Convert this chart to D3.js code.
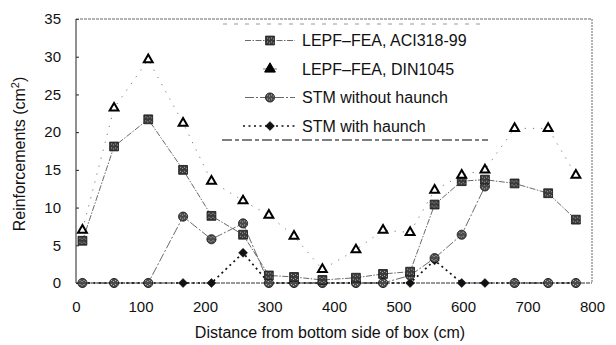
<!DOCTYPE html>
<html>
<head>
<meta charset="utf-8">
<script src="https://cdn.jsdelivr.net/npm/d3@7"></script>
<style>
  body { margin: 0; background: #fff; }
  svg { display: block; }
  text { font-family: "Liberation Sans", Arial, sans-serif; fill: #111; }
</style>
</head>
<body>
<svg id="chart" width="616" height="345"></svg>
<script>
// Distance from the bottom side of the box (cm)
const distances = [10, 59, 112, 166, 210, 259, 299, 338, 382, 434, 476, 518, 556, 598, 634, 680, 732, 775];
// Required reinforcement (cm^2)
const aciValues   = [5.6, 18.1, 21.7, 15.0, 8.9, 6.4, 1.0, 0.8, 0.4, 0.7, 1.2, 1.5, 10.4, 13.5, 13.7, 13.2, 11.9, 8.4];
const dinValues   = [7.0, 23.2, 29.6, 21.2, 13.5, 10.9, 9.0, 6.2, 1.8, 4.4, 7.0, 6.7, 12.3, 14.3, 15.0, 20.5, 20.5, 14.3];
const stmNoHaunch = [0, 0, 0, 8.8, 5.8, 7.9, 0, 0, 0, 0, 0, 1.0, 3.3, 6.4, 12.8, 0, 0, 0];
const stmHaunch   = [0, 0, 0, 0, 0, 4.0, 0, 0, 0, 0, 0, 0, 3.0, 0, 0, 0, 0, 0];
// the STM-without-haunch curve is not joined after this index
const stmNoHaunchBreaks = [14];

const seriesNames = ["LEPF\u2013FEA, ACI318-99", "LEPF\u2013FEA, DIN1045", "STM without haunch", "STM with haunch"];
const xTicks = [0, 100, 200, 300, 400, 500, 600, 700, 800];
const yTicks = [0, 5, 10, 15, 20, 25, 30, 35];
const xLabel = "Distance from bottom side of box (cm)";
const yLabel = "Reinforcements (cm";

const svg = d3.select("#chart");
const L = 76, R = 592, T = 19, B = 283;
const x = d3.scaleLinear().domain([0, 800]).range([L, R]);
const y = d3.scaleLinear().domain([0, 35]).range([B, T]);

// speckled fills for the dark markers
const defs = svg.append("defs");
function speckle(id, base, spot) {
  const p = defs.append("pattern").attr("id", id).attr("patternUnits", "userSpaceOnUse")
    .attr("width", 4).attr("height", 4);
  p.append("rect").attr("width", 4).attr("height", 4).attr("fill", base);
  p.append("rect").attr("x", 1).attr("y", 1).attr("width", 1).attr("height", 1).attr("fill", spot);
  p.append("rect").attr("x", 3).attr("y", 2).attr("width", 1).attr("height", 1).attr("fill", spot);
}
speckle("sqFill", "#3a3a3a", "#aaa");
speckle("ciFill", "#4a4a4a", "#bbb");

// rhombus marker: a square turned by 45 degrees
const rhombus = {
  draw(ctx, size) {
    const r = Math.sqrt(size / 2);
    ctx.moveTo(0, -r); ctx.lineTo(r, 0); ctx.lineTo(0, r); ctx.lineTo(-r, 0); ctx.closePath();
  }
};

const series = [
  { name: seriesNames[0], values: aciValues, symbol: d3.symbolSquare, size: 78,
    fill: "url(#sqFill)", stroke: "#111", sw: 0.8,
    line: { color: "#444", width: 0.8, dash: "6,1.5,1.5,1.5" }, breaks: [] },
  { name: seriesNames[1], values: dinValues, symbol: d3.symbolTriangle, size: 34,
    fill: "#fff", stroke: "#000", sw: 2,
    line: { color: "#777", width: 1, dash: "1.2,7" }, breaks: [] },
  { name: seriesNames[2], values: stmNoHaunch, symbol: d3.symbolCircle, size: 66,
    fill: "url(#ciFill)", stroke: "#111", sw: 0.8,
    line: { color: "#444", width: 0.8, dash: "9,2,2,2" }, breaks: stmNoHaunchBreaks },
  { name: seriesNames[3], values: stmHaunch, symbol: rhombus, size: 40,
    fill: "#111", stroke: "#000", sw: 0.5,
    line: { color: "#111", width: 1.7, dash: "2,3.5" }, breaks: [] }
];

// axes
const yAxis = d3.axisLeft(y).tickValues(yTicks).tickSizeInner(-3).tickSizeOuter(0).tickPadding(15);
const gy = svg.append("g").attr("transform", `translate(${L},0)`).call(yAxis);
gy.select(".domain").remove();
gy.selectAll(".tick line").attr("stroke", "#222");
gy.selectAll(".tick text").attr("font-size", 15).attr("font-family", "Liberation Sans, Arial, sans-serif").attr("fill", "#111");

const xAxis = d3.axisBottom(x).tickValues(xTicks).tickSize(0).tickPadding(18);
const gx = svg.append("g").attr("transform", `translate(0,${B})`).call(xAxis);
gx.select(".domain").remove();
gx.selectAll(".tick text").attr("font-size", 15).attr("font-family", "Liberation Sans, Arial, sans-serif").attr("fill", "#111");

// frame
svg.append("line").attr("x1", L).attr("x2", R).attr("y1", T).attr("y2", T)
  .attr("stroke", "#666").attr("stroke-width", 1).attr("stroke-dasharray", "3,1");
svg.append("line").attr("x1", R).attr("x2", R).attr("y1", T).attr("y2", B)
  .attr("stroke", "#666").attr("stroke-width", 1).attr("stroke-dasharray", "2,1");
svg.append("line").attr("x1", L).attr("x2", L).attr("y1", T).attr("y2", B)
  .attr("stroke", "#222").attr("stroke-width", 1);
svg.append("line").attr("x1", L).attr("x2", R).attr("y1", B).attr("y2", B)
  .attr("stroke", "#333").attr("stroke-width", 1.2).attr("stroke-dasharray", "4,1");

// axis titles
svg.append("text").attr("x", 330).attr("y", 338).attr("text-anchor", "middle")
  .attr("font-size", 16).text(xLabel);
const yt = svg.append("text").attr("transform", "translate(25,154) rotate(-90)")
  .attr("text-anchor", "middle").attr("font-size", 16);
yt.append("tspan").text(yLabel);
yt.append("tspan").attr("font-size", 11).attr("dy", -6).text("2");
yt.append("tspan").attr("dy", 6).text(")");

// lines
const lineGen = d3.line().x(d => x(d[0])).y(d => y(d[1]));
series.forEach(s => {
  const pts = distances.map((d, i) => [d, s.values[i]]);
  const segs = [];
  let cur = [];
  pts.forEach((p, i) => {
    cur.push(p);
    if (s.breaks.includes(i)) { segs.push(cur); cur = []; }
  });
  if (cur.length) segs.push(cur);
  segs.forEach(seg => {
    svg.append("path").attr("d", lineGen(seg)).attr("fill", "none")
      .attr("stroke", s.line.color).attr("stroke-width", s.line.width)
      .attr("stroke-dasharray", s.line.dash);
  });
});

// markers: diamonds, circles, squares, triangles (drawing order)
[3, 2, 0, 1].forEach(k => {
  const s = series[k];
  const sym = d3.symbol().type(s.symbol).size(s.size);
  svg.append("g").selectAll("path").data(distances.map((d, i) => [d, s.values[i]]))
    .join("path")
    .attr("transform", d => `translate(${x(d[0])},${y(d[1])})`)
    .attr("d", sym)
    .attr("fill", s.fill).attr("stroke", s.stroke).attr("stroke-width", s.sw);
});

// legend
const lg = svg.append("g");
lg.append("line").attr("x1", 223).attr("x2", 486).attr("y1", 24).attr("y2", 24)
  .attr("stroke", "#999").attr("stroke-width", 1).attr("stroke-dasharray", "4,7");
lg.append("line").attr("x1", 222).attr("x2", 488).attr("y1", 140).attr("y2", 140)
  .attr("stroke", "#555").attr("stroke-width", 1.3).attr("stroke-dasharray", "10,3,4,3");
const rowY = [40.5, 69, 97.5, 126];
const sampleX = [[245, 295], [263, 277], [245, 295], [243, 295]];
series.forEach((s, i) => {
  const ry = rowY[i];
  lg.append("line").attr("x1", sampleX[i][0]).attr("x2", sampleX[i][1]).attr("y1", ry).attr("y2", ry)
    .attr("stroke", s.line.color).attr("stroke-width", s.line.width)
    .attr("stroke-dasharray", i === 1 ? null : s.line.dash);
  lg.append("path").attr("transform", `translate(270,${ry})`)
    .attr("d", d3.symbol().type(s.symbol).size(i === 1 ? 50 : s.size)())
    .attr("fill", i === 1 ? "#000" : s.fill).attr("stroke", s.stroke).attr("stroke-width", i === 1 ? 1 : s.sw);
  lg.append("text").attr("x", 302).attr("y", ry).attr("dy", "0.36em")
    .attr("font-size", 16).text(s.name);
});
</script>
</body>
</html>
